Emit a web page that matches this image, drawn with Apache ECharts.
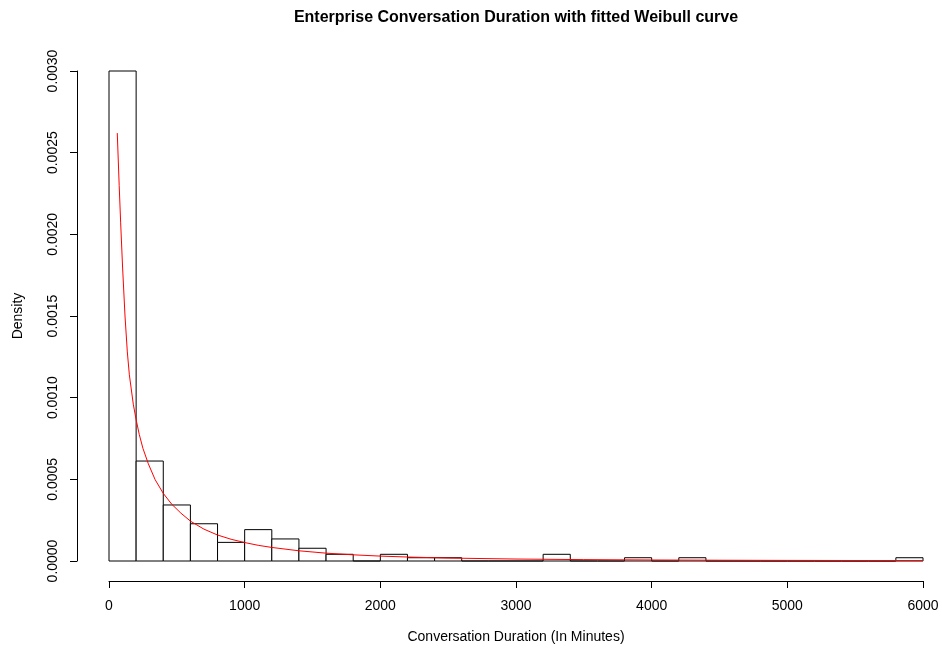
<!DOCTYPE html>
<html>
<head>
<meta charset="utf-8">
<script src="https://cdn.jsdelivr.net/npm/echarts@6/dist/echarts.min.js"></script>
<style>
  html, body { margin: 0; padding: 0; background: #fff; }
  #chart { width: 942px; height: 650px; }
</style>
</head>
<body>
<div id="chart"></div>
<script>
// Histogram bin edges (minutes)
const breaks = [0, 200, 400, 600, 800, 1000, 1200, 1400, 1600, 1800, 2000,
  2200, 2400, 2600, 2800, 3000, 3200, 3400, 3600, 3800, 4000,
  4200, 4400, 4600, 4800, 5000, 5200, 5400, 5600, 5800, 6000];

// Density of each bin
const densities = [0.00300, 0.000612, 0.000343, 0.000228, 0.000114, 0.000192,
  0.000135, 0.000078, 0.000041, 0.0, 0.000041, 0.000020, 0.000020, 0.0, 0.0,
  0.0, 0.000041, 0.0, 0.0, 0.000020, 0.0, 0.000020, 0.0, 0.0, 0.0,
  0.0, 0.0, 0.0, 0.0, 0.000020];

// Fitted Weibull density curve (minutes, density)
const curveX = [61, 75, 86, 100, 118, 135, 150, 179, 200, 223, 250, 290, 340, 400,
  462, 530, 602, 700, 800, 900, 1000, 1100, 1200, 1400, 1600, 1800, 2000, 2200,
  2500, 3000, 3500, 4000, 4500, 5000, 5500, 6000];
const curveY = [0.00262, 0.00230, 0.00207, 0.00180, 0.00150, 0.00128, 0.00114,
  0.000960, 0.000865, 0.000775, 0.000690, 0.000595, 0.000498, 0.000414,
  0.000348, 0.000293, 0.000243, 0.000195, 0.000159, 0.000133, 0.000113,
  0.0000960, 0.0000830, 0.0000625, 0.0000480, 0.0000378, 0.0000300, 0.0000243,
  0.0000180, 0.0000120, 0.0000085, 0.0000062, 0.0000047, 0.0000037, 0.0000030,
  0.0000024];

// Axis ticks
const xTicks = [0, 1000, 2000, 3000, 4000, 5000, 6000];
const yTicks = [0, 0.0005, 0.0010, 0.0015, 0.0020, 0.0025, 0.0030];

const bins = densities.map((d, i) => [breaks[i], breaks[i + 1], d]);
const curve = curveX.map((x, i) => [x, curveY[i]]);

const font = '"Liberation Sans", Arial, Helvetica, sans-serif';

const chart = echarts.init(document.getElementById('chart'), null, { renderer: 'canvas' });
chart.setOption({
  animation: false,
  backgroundColor: '#ffffff',
  title: {
    text: 'Enterprise Conversation Duration with fitted Weibull curve',
    left: 516,
    top: 10,
    textAlign: 'center',
    padding: 0,
    textStyle: { fontFamily: font, fontSize: 16, fontWeight: 'bold', color: '#000' }
  },
  grid: { left: 109, right: 19, top: 71, bottom: 89, containLabel: false },
  xAxis: {
    type: 'value',
    min: xTicks[0],
    max: xTicks[xTicks.length - 1],
    interval: 1000,
    offset: 20,
    name: 'Conversation Duration (In Minutes)',
    nameLocation: 'middle',
    nameGap: 49,
    nameTextStyle: { fontFamily: font, fontSize: 14, color: '#000' },
    axisLine: { show: true, onZero: false, lineStyle: { color: '#000', width: 1 } },
    axisTick: { show: true, inside: false, length: 7, lineStyle: { color: '#000' } },
    axisLabel: { fontFamily: font, fontSize: 14, color: '#000', margin: 18,
      formatter: v => String(v), showMinLabel: true, showMaxLabel: true },
    splitLine: { show: false }
  },
  yAxis: {
    type: 'value',
    min: yTicks[0],
    max: yTicks[yTicks.length - 1],
    interval: 0.0005,
    offset: 32,
    name: 'Density',
    nameLocation: 'middle',
    nameRotate: 90,
    nameGap: 52,
    nameTextStyle: { fontFamily: font, fontSize: 14, color: '#000' },
    axisLine: { show: true, onZero: false, lineStyle: { color: '#000', width: 1 } },
    axisTick: { show: true, inside: false, length: 7, lineStyle: { color: '#000' } },
    axisLabel: { fontFamily: font, fontSize: 14, color: '#000', margin: 17, rotate: 90,
      formatter: v => v.toFixed(4), showMinLabel: true, showMaxLabel: true },
    splitLine: { show: false }
  },
  series: [
    {
      type: 'custom',
      clip: false,
      data: bins,
      renderItem: function (params, api) {
        const top = api.coord([api.value(0), api.value(2)]);
        const bot = api.coord([api.value(1), 0]);
        return {
          type: 'rect',
          shape: { x: top[0], y: top[1], width: bot[0] - top[0], height: bot[1] - top[1] },
          style: { fill: '#ffffff', stroke: '#000000', lineWidth: 1 }
        };
      },
      z: 2
    },
    {
      type: 'line',
      data: curve,
      showSymbol: false,
      smooth: false,
      lineStyle: { color: '#ff0000', width: 1 },
      itemStyle: { color: '#ff0000' },
      z: 3
    }
  ]
});
</script>
</body>
</html>
